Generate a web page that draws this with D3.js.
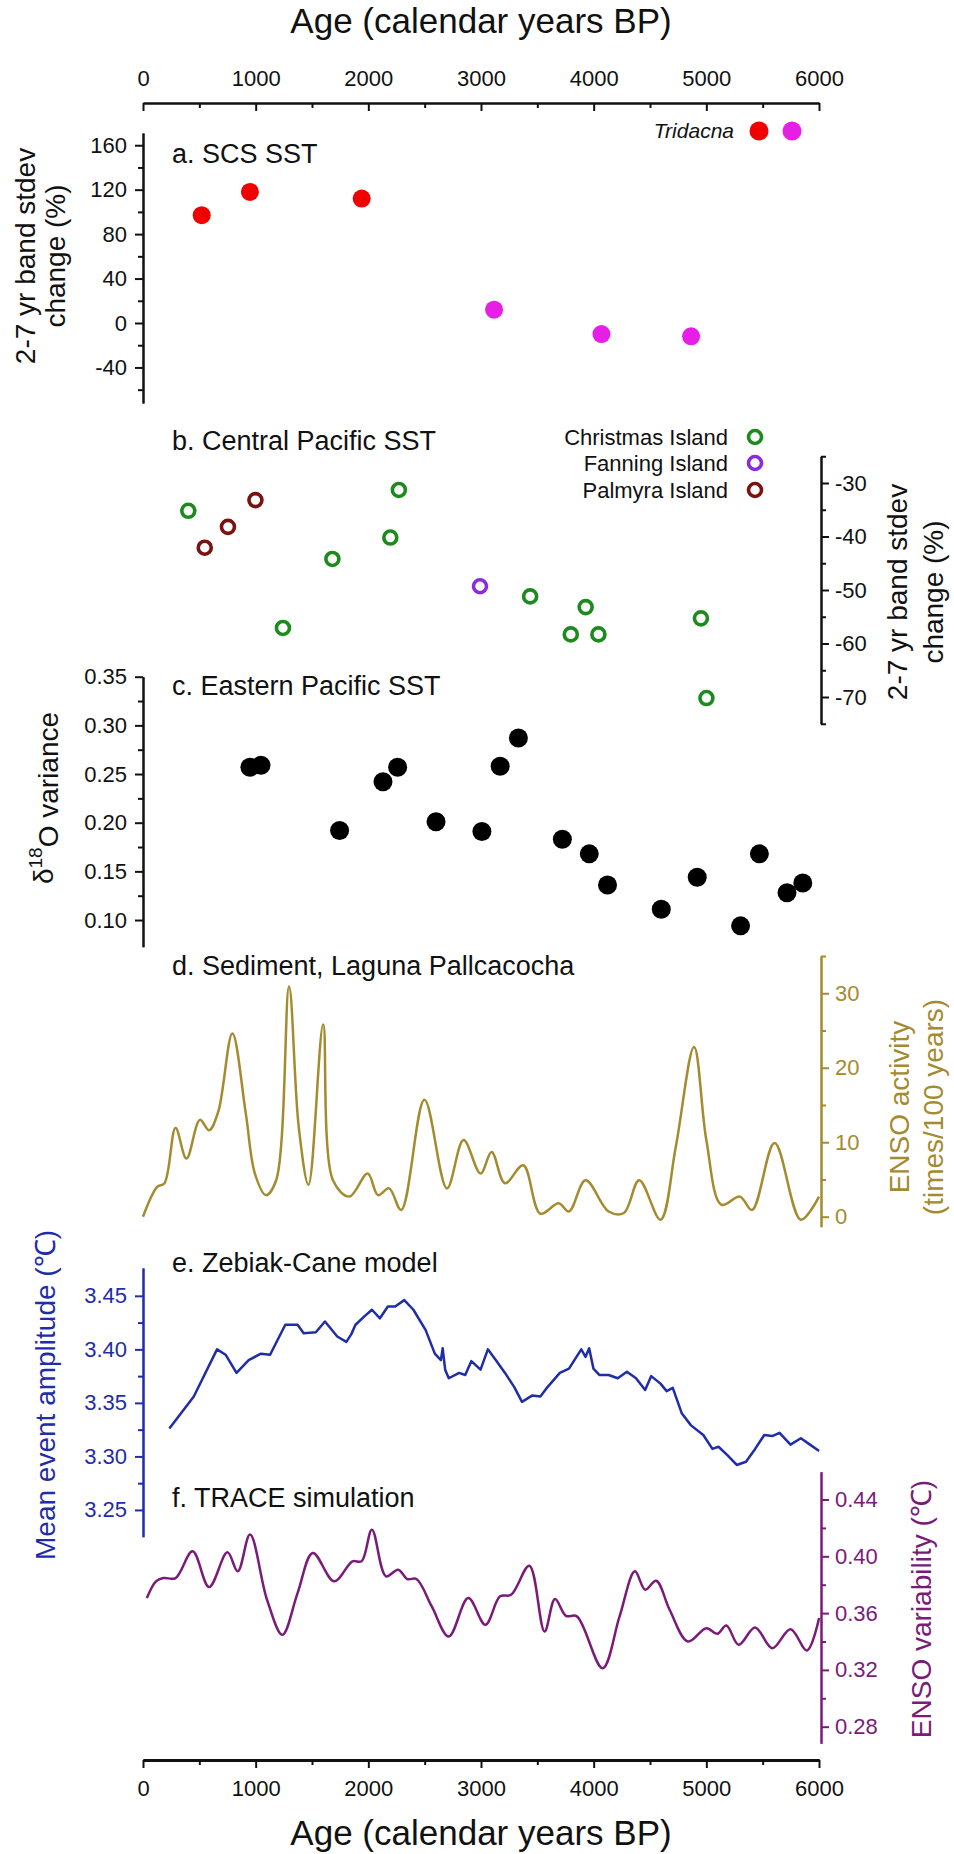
<!DOCTYPE html>
<html><head><meta charset="utf-8">
<script src="https://cdn.jsdelivr.net/npm/d3@7"></script>
<style>
body{margin:0;background:#fff;}
text{font-family:"Liberation Sans",Arial,sans-serif;}
</style></head>
<body><div id="chart"></div>
<script>
// ---------- data ----------
const ageTicks = [0,1000,2000,3000,4000,5000,6000];
const ageMinor = [500,1500,2500,3500,4500,5500];

// a. SCS SST (Tridacna)
const scsRedAge = [521, 949, 1941];
const scsRedVal = [97, 118, 112];
const scsMagAge = [3116, 4069, 4865];
const scsMagVal = [12, -10, -12];
const aTicks = [-40,0,40,80,120,160];
const aMinor = [-60,-20,20,60,100,140];

// b. Central Pacific SST
const christmasAge = [402,1242,1681,2195,2271,3436,3797,3929,4042,4952,5001];
const christmasVal = [-35.2,-57.1,-44.2,-40.2,-31.3,-51.2,-58.3,-53.2,-58.3,-55.3,-70.2];
const fanningAge = [2991];
const fanningVal = [-49.3];
const palmyraAge = [548,754,998];
const palmyraVal = [-42.1,-38.2,-33.2];
const bTicks = [-70,-60,-50,-40,-30];
const bMinor = [-75,-65,-55,-45,-35,-25];
const bLegend = ["Christmas Island","Fanning Island","Palmyra Island"];

// c. Eastern Pacific SST
const eastAge = [949,1047,1745,2130,2260,2601,3008,3170,3332,3722,3961,4123,4600,4919,5304,5471,5716,5856];
const eastVal = [0.257,0.259,0.192,0.242,0.257,0.201,0.191,0.258,0.287,0.183,0.168,0.136,0.111,0.144,0.094,0.168,0.128,0.138];
const cTicks = [0.10,0.15,0.20,0.25,0.30,0.35];
const cMinor = [0.125,0.175,0.225,0.275,0.325];

// d. Sediment, Laguna Pallcacocha
const sedAge = [0,126,191,289,386,505,587,668,793,912,993,1090,1182,1296,1382,1469,1599,1686,1832,1994,2086,2184,2292,2498,2698,2845,2996,3094,3213,3375,3527,3689,3781,3928,4133,4268,4404,4593,4729,4891,5000,5135,5297,5406,5606,5839,6000];
const sedVal = [0,4.0,4.5,11.9,7.8,13.0,11.6,14.1,24.6,13.9,5.8,2.9,4.9,30.9,12.1,4.3,25.8,4.9,2.7,5.8,2.9,3.8,0.9,15.7,3.8,10.3,5.8,8.7,4.5,6.9,0.4,1.8,0.7,4.9,0.7,0.5,4.9,-0.4,9.4,22.8,10.3,1.6,2.7,0.9,9.9,-0.4,2.7];
const dTicks = [0,10,20,30];
const dMinor = [5,15,25,35];

// e. Zebiak-Cane model
const zcAge = [234,451,657,733,830,938,1047,1128,1263,1372,1426,1534,1615,1724,1805,1848,1886,1967,2032,2103,2173,2238,2319,2400,2509,2590,2644,2660,2682,2714,2806,2860,2914,2996,3061,3131,3213,3294,3364,3456,3527,3592,3700,3781,3890,3928,3960,3998,4052,4133,4214,4295,4376,4457,4511,4593,4648,4702,4783,4864,4973,5054,5108,5189,5270,5352,5433,5514,5585,5650,5747,5839,5920,6001];
const zcVal = [3.326,3.356,3.400,3.395,3.378,3.390,3.396,3.395,3.423,3.423,3.415,3.416,3.426,3.412,3.407,3.414,3.423,3.431,3.437,3.429,3.440,3.440,3.446,3.437,3.418,3.396,3.390,3.401,3.381,3.373,3.378,3.376,3.389,3.381,3.400,3.390,3.378,3.365,3.351,3.357,3.356,3.365,3.378,3.382,3.400,3.393,3.401,3.382,3.376,3.376,3.373,3.379,3.373,3.362,3.375,3.368,3.361,3.364,3.340,3.329,3.320,3.307,3.309,3.301,3.292,3.295,3.307,3.320,3.319,3.322,3.311,3.317,3.311,3.305];
const eTicks = [3.25,3.30,3.35,3.40,3.45];
const eMinor = [3.275,3.325,3.375,3.425];

// f. TRACE simulation
const traceAge = [34,115,180,289,440,587,749,841,950,1101,1237,1372,1507,1697,1859,1940,2032,2157,2265,2346,2427,2563,2714,2887,3039,3169,3267,3429,3564,3657,3754,3851,4079,4230,4366,4457,4555,4674,4837,5000,5097,5178,5287,5433,5585,5747,5893,6001];
const traceVal = [0.3706,0.3824,0.3847,0.3847,0.4035,0.3784,0.4028,0.3894,0.4153,0.3694,0.3447,0.3741,0.4024,0.3824,0.3965,0.3965,0.4188,0.3859,0.3906,0.3840,0.3840,0.3647,0.3435,0.3706,0.3518,0.3718,0.3729,0.3934,0.3471,0.3699,0.3581,0.3577,0.3212,0.3577,0.3894,0.3765,0.3828,0.3624,0.3400,0.3494,0.3454,0.3513,0.3377,0.3499,0.3353,0.3487,0.3337,0.3565];
const fTicks = [0.28,0.32,0.36,0.40,0.44];
const fMinor = [0.30,0.34,0.38,0.42];

// ---------- layout ----------
const W = 954, H = 1854;
const LX = 143, RX = 821;
const svg = d3.select("#chart").append("svg").attr("width", W).attr("height", H)
  .attr("viewBox", `0 0 ${W} ${H}`);
svg.append("rect").attr("width", W).attr("height", H).attr("fill", "#fff");

const x = d3.scaleLinear().domain([0, 6000]).range([143, 819]);
const yA = d3.scaleLinear().domain([-72, 171]).range([403, 133]);
const yB = d3.scaleLinear().domain([-75, -25]).range([723.75, 456.25]);
const yC = d3.scaleLinear().domain([0.0726, 0.35]).range([946.7, 676.7]);
const yD = d3.scaleLinear().domain([-1.34, 35]).range([1226.7, 956]);
const yE = d3.scaleLinear().domain([3.225, 3.476]).range([1536.7, 1268]);
const yF = d3.scaleLinear().domain([0.2683, 0.4596]).range([1743.3, 1471.7]);

const C = {
  red: "#f00000", mag: "#e61ee6", green: "#1c8a1c", purple: "#8a2be2", maroon: "#7a1212",
  olive: "#a48b2f", blue: "#1f2da6", plum: "#7b1b78"
};
const intFmt = d => String(d);               // hyphen-minus like the original
const dec2 = d => d.toFixed(2);

function styleAxis(g, color, width, fs) {
  g.select(".domain").attr("stroke", color).attr("stroke-width", width);
  g.selectAll(".tick line").attr("stroke", color).attr("stroke-width", 2);
  g.selectAll(".tick text").attr("fill", color).style("font-size", fs + "px")
    .style("font-family", '"Liberation Sans",Arial,sans-serif');
}

function yAxis(scale, side, ticks, minor, fmt, color) {
  const xpos = side === "left" ? LX : RX;
  const mk = side === "left" ? d3.axisLeft : d3.axisRight;
  const gm = svg.append("g").attr("transform", `translate(${xpos},0)`)
    .call(mk(scale).tickValues(minor).tickSize(5).tickSizeOuter(0).tickFormat(""));
  styleAxis(gm, color, 2, 22);
  const g = svg.append("g").attr("transform", `translate(${xpos},0)`)
    .call(mk(scale).tickValues(ticks).tickSize(8).tickSizeOuter(0).tickPadding(side === "left" ? 8 : 6).tickFormat(fmt));
  styleAxis(g, color, 2, 22);
}

function rotLabel(lines, cx, cy, color, fs, gap) {
  lines.forEach((ln, i) => {
    const t = svg.append("text")
      .attr("transform", `translate(${cx + i * gap},${cy}) rotate(-90)`)
      .attr("text-anchor", "middle").attr("dy", "0.35em")
      .attr("fill", color).style("font-size", fs + "px");
    if (typeof ln === "string") t.text(ln); else ln(t);
  });
}

function title(txt, y) {
  svg.append("text").attr("x", 172).attr("y", y).style("font-size", "27px").attr("fill", "#111").text(txt);
}

// ---------- top axis ----------
{
  const gm = svg.append("g").attr("transform", "translate(0,103)")
    .call(d3.axisTop(x).tickValues(ageMinor).tickSize(-5).tickSizeOuter(0).tickFormat(""));
  styleAxis(gm, "#111", 2, 22);
  const g = svg.append("g").attr("transform", "translate(0,103)")
    .call(d3.axisTop(x).tickValues(ageTicks).tickSize(-8).tickSizeOuter(0).tickPadding(17).tickFormat(intFmt));
  styleAxis(g, "#111", 2, 22);
  svg.append("text").attr("x", 481).attr("y", 33).attr("text-anchor", "middle")
    .style("font-size", "35px").attr("fill", "#111").text("Age (calendar years BP)");
}

// ---------- bottom axis ----------
{
  const gm = svg.append("g").attr("transform", "translate(0,1760)")
    .call(d3.axisBottom(x).tickValues(ageMinor).tickSize(5).tickSizeOuter(0).tickFormat(""));
  styleAxis(gm, "#111", 3, 22);
  const g = svg.append("g").attr("transform", "translate(0,1760)")
    .call(d3.axisBottom(x).tickValues(ageTicks).tickSize(8).tickSizeOuter(0).tickPadding(12).tickFormat(intFmt));
  styleAxis(g, "#111", 3, 22);
  svg.append("text").attr("x", 481).attr("y", 1845).attr("text-anchor", "middle")
    .style("font-size", "35px").attr("fill", "#111").text("Age (calendar years BP)");
}

// ---------- a ----------
yAxis(yA, "left", aTicks, aMinor, intFmt, "#111");
title("a. SCS SST", 163);
rotLabel(["2-7 yr band stdev", "change (%)"], 25, 256, "#111", 28, 30);
svg.append("g").selectAll("circle").data(d3.zip(scsRedAge, scsRedVal)).join("circle")
  .attr("cx", d => x(d[0])).attr("cy", d => yA(d[1])).attr("r", 9).attr("fill", C.red);
svg.append("g").selectAll("circle").data(d3.zip(scsMagAge, scsMagVal)).join("circle")
  .attr("cx", d => x(d[0])).attr("cy", d => yA(d[1])).attr("r", 9).attr("fill", C.mag);
svg.append("text").attr("x", 734).attr("y", 138).attr("text-anchor", "end")
  .style("font-size", "21px").style("font-style", "italic").attr("fill", "#111").text("Tridacna");
svg.append("circle").attr("cx", 759).attr("cy", 131).attr("r", 9.5).attr("fill", C.red);
svg.append("circle").attr("cx", 792).attr("cy", 131).attr("r", 9.5).attr("fill", C.mag);

// ---------- b ----------
yAxis(yB, "right", bTicks, bMinor, intFmt, "#111");
title("b. Central Pacific SST", 450);
rotLabel(["2-7 yr band stdev", "change (%)"], 897, 592, "#111", 28, 36);
[[christmasAge, christmasVal, C.green], [fanningAge, fanningVal, C.purple], [palmyraAge, palmyraVal, C.maroon]]
  .forEach(([ages, vals, col]) => {
    svg.append("g").selectAll("circle").data(d3.zip(ages, vals)).join("circle")
      .attr("cx", d => x(d[0])).attr("cy", d => yB(d[1])).attr("r", 6.5)
      .attr("fill", "none").attr("stroke", col).attr("stroke-width", 3.6);
  });
bLegend.forEach((name, i) => {
  const cy = [437, 463, 490][i];
  svg.append("text").attr("x", 728).attr("y", cy + 7.5).attr("text-anchor", "end")
    .style("font-size", "22px").attr("fill", "#111").text(name);
  svg.append("circle").attr("cx", 755).attr("cy", cy).attr("r", 6.5)
    .attr("fill", "none").attr("stroke", [C.green, C.purple, C.maroon][i]).attr("stroke-width", 3.6);
});

// ---------- c ----------
yAxis(yC, "left", cTicks, cMinor, dec2, "#111");
title("c. Eastern Pacific SST", 695);
rotLabel([t => {
  t.append("tspan").text("δ");
  t.append("tspan").attr("dy", "-0.55em").style("font-size", "19px").text("18");
  t.append("tspan").attr("dy", "0.55em").text("O variance");
}], 43, 798, "#111", 28, 0);
svg.append("g").selectAll("circle").data(d3.zip(eastAge, eastVal)).join("circle")
  .attr("cx", d => x(d[0])).attr("cy", d => yC(d[1])).attr("r", 9.5).attr("fill", "#000");

// ---------- d ----------
yAxis(yD, "right", dTicks, dMinor, intFmt, C.olive);
title("d. Sediment, Laguna Pallcacocha", 975);
rotLabel(["ENSO activity", "(times/100 years)"], 899, 1107, C.olive, 28, 34);
svg.append("path").datum(d3.zip(sedAge, sedVal))
  .attr("d", d3.line().x(d => x(d[0])).y(d => yD(d[1])).curve(d3.curveCatmullRom.alpha(0.5)))
  .attr("fill", "none").attr("stroke", C.olive).attr("stroke-width", 2.5);

// ---------- e ----------
yAxis(yE, "left", eTicks, eMinor, dec2, C.blue);
title("e. Zebiak-Cane model", 1272);
rotLabel(["Mean event amplitude (℃)"], 45, 1395, C.blue, 28, 0);
svg.append("path").datum(d3.zip(zcAge, zcVal))
  .attr("d", d3.line().x(d => x(d[0])).y(d => yE(d[1])))
  .attr("fill", "none").attr("stroke", C.blue).attr("stroke-width", 2.5).attr("stroke-linejoin", "round");

// ---------- f ----------
yAxis(yF, "right", fTicks, fMinor, dec2, C.plum);
title("f. TRACE simulation", 1507);
rotLabel(["ENSO variability (℃)"], 921, 1609, C.plum, 28, 0);
svg.append("path").datum(d3.zip(traceAge, traceVal))
  .attr("d", d3.line().x(d => x(d[0])).y(d => yF(d[1])).curve(d3.curveCatmullRom.alpha(0.5)))
  .attr("fill", "none").attr("stroke", C.plum).attr("stroke-width", 2.5);
</script>
</body></html>
